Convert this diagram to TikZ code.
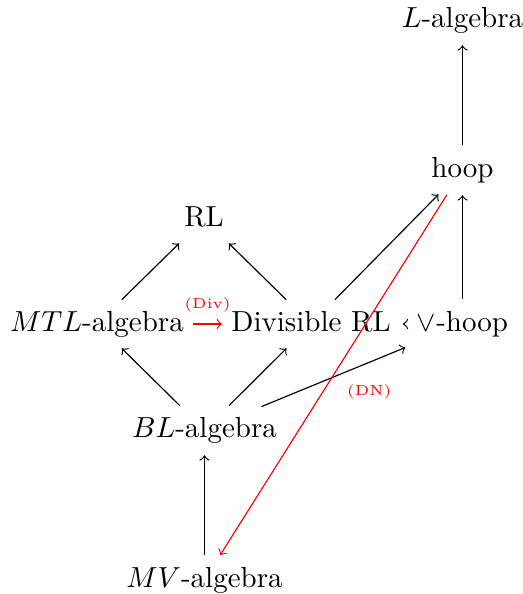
\documentclass[tikz,border=0pt]{standalone}
\begin{document}
\begin{tikzpicture}[x=0.3448pt, y=-0.3448pt,
  obj/.style={inner sep=3pt, text height=7pt, text depth=2pt},
  arr/.style={->, >=to, line width=0.4pt, shorten >=1pt, shorten <=1pt},
  redarr/.style={arr, red},
  lab/.style={font=\tiny, text=red, inner sep=1pt}]
\useasboundingbox (0,0) rectangle (523,594);
\node[obj] (L) at (462.5,20) {$L$-algebra};
\node[obj] (hoop) at (462.5,170) {hoop};
\node[obj] (RL) at (204,219) {RL};
\node[obj] (MTL) at (97,324) {$MTL$-algebra};
\node[obj] (DRL) at (311,324) {Divisible RL};
\node[obj] (vhoop) at (462.5,324) {$\vee$-hoop};
\node[obj] (BL) at (204.5,430) {$BL$-algebra};
\node[obj] (MV) at (204.5,580) {$MV$-algebra};

\draw[arr] (hoop) -- (L);
\draw[arr] (vhoop) -- (hoop);
\draw[arr] (MTL) -- (RL);
\draw[arr] (DRL) -- (RL);
\draw[arr] (DRL) -- (hoop);
\draw[arr] (vhoop) -- (DRL);
\draw[arr] (BL) -- (MTL);
\draw[arr] (BL) -- (DRL);
\draw[arr] (BL) -- (vhoop);
\draw[arr] (MV) -- (BL);
\draw[redarr, shorten >=0pt, shorten <=0pt] (MTL) -- node[lab, above=3pt] {(Div)} (DRL);
\draw[redarr] (hoop) -- node[lab, pos=0.545, anchor=west, xshift=7pt] {(DN)} (MV);
\end{tikzpicture}
\end{document}
